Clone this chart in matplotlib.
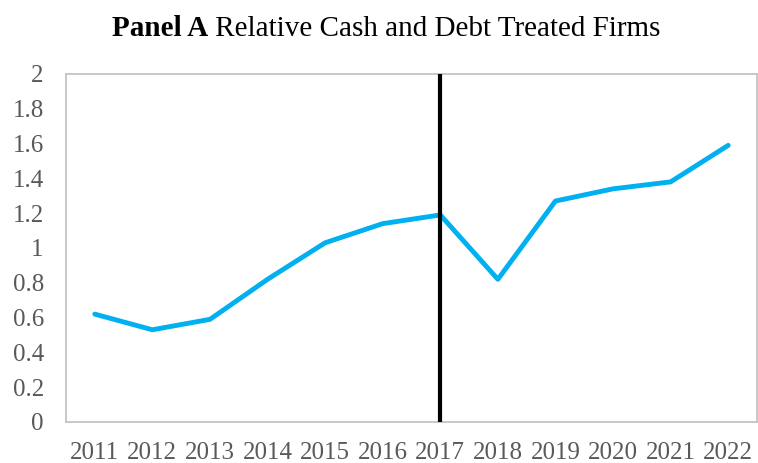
import matplotlib
matplotlib.use("Agg")
import matplotlib.pyplot as plt
import numpy as np

years = ["2011", "2012", "2013", "2014", "2015", "2016",
         "2017", "2018", "2019", "2020", "2021", "2022"]
ratio = [0.62, 0.53, 0.59, 0.82, 1.03, 1.14,
         1.19, 0.82, 1.27, 1.34, 1.38, 1.59]
event_year = "2017"
y_ticks = [0, 0.2, 0.4, 0.6, 0.8, 1, 1.2, 1.4, 1.6, 1.8, 2]
y_labels = ["0", "0.2", "0.4", "0.6", "0.8", "1", "1.2", "1.4", "1.6", "1.8", "2"]

W, H = 758, 463
fig = plt.figure(figsize=(W / 100, H / 100), dpi=100)
ax = fig.add_axes([66 / W, (H - 422) / H, (757 - 66) / W, (422 - 74) / H])

x = np.arange(len(years))
ax.plot(x, ratio, color="#00B0F0", lw=3.5, solid_joinstyle="round",
        solid_capstyle="round", zorder=3)
ax.axvline(years.index(event_year), color="black", lw=3, zorder=4)

ax.set_xlim(-0.5, len(years) - 0.5)
ax.set_ylim(0, 2)
ax.set_xticks(x)
ax.set_xticklabels(years)
ax.set_yticks(y_ticks)
ax.set_yticklabels(y_labels)

for lab in ax.get_xticklabels() + ax.get_yticklabels():
    lab.set_fontfamily("Liberation Serif")
    lab.set_fontsize(18)
    lab.set_color("#595959")
ax.tick_params(axis="both", length=0)
ax.tick_params(axis="x", pad=14.5)
ax.tick_params(axis="y", pad=16)

for s in ax.spines.values():
    s.set_color("#BFBFBF")
    s.set_linewidth(1.2)

# Title: bold lead-in followed by regular text, centred as one line
title_size = 21
fig.canvas.draw()
r = fig.canvas.get_renderer()
t1 = fig.text(0, 0, "Panel A", fontfamily="Liberation Serif", fontweight="bold",
              fontsize=title_size)
t2 = fig.text(0, 0, " Relative Cash and Debt Treated Firms",
              fontfamily="Liberation Serif", fontsize=title_size)
w1 = t1.get_window_extent(r).width
w2 = t2.get_window_extent(r).width
cx = 386
x0 = cx - (w1 + w2) / 2
yb = 1 - 36 / H
t1.set_position((x0 / W, yb))
t2.set_position(((x0 + w1) / W, yb))
t1.set_va("baseline")
t2.set_va("baseline")

fig.savefig("out.png", dpi=100)
